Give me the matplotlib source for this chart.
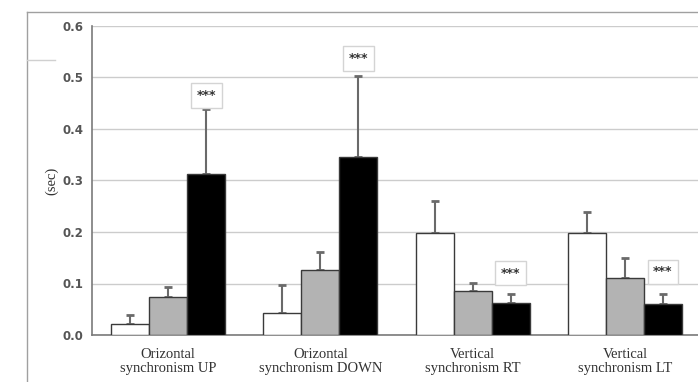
import numpy as np
import matplotlib
matplotlib.use('Agg')
import matplotlib.pyplot as plt
from matplotlib.lines import Line2D

# data
categories = ['Orizontal\nsynchronism UP', 'Orizontal\nsynchronism DOWN',
              'Vertical\nsynchronism RT', 'Vertical\nsynchronism LT']
white_vals = [0.022, 0.043, 0.198, 0.198]
white_err = [0.017, 0.054, 0.062, 0.041]
grey_vals = [0.074, 0.126, 0.085, 0.110]
grey_err = [0.019, 0.035, 0.016, 0.040]
black_vals = [0.312, 0.346, 0.062, 0.060]
black_err = [0.127, 0.157, 0.018, 0.019]
stars = ['***', '***', '***', '***']
star_y = [0.465, 0.537, 0.12, 0.123]
yticks = [0.0, 0.1, 0.2, 0.3, 0.4, 0.5, 0.6]

fig = plt.figure(figsize=(6.98, 3.82), dpi=100)
ax = fig.add_axes([92/698, 1-335/382, 1-92/698, (335-26)/382])

x = np.arange(len(categories))
w = 0.25
series = [(white_vals, white_err, 'white'), (grey_vals, grey_err, '#b3b3b3'),
          (black_vals, black_err, 'black')]
for i, (vals, err, col) in enumerate(series):
    xs = x + (i - 1) * w
    ax.bar(xs, vals, width=w, color=col, edgecolor='#3a3a3a', linewidth=1, zorder=3)
    ax.errorbar(xs, vals, yerr=[np.zeros(len(vals)), err], fmt='none',
                ecolor='#6a6a6a', elinewidth=1.5, capsize=3, capthick=2, zorder=2)

# significance marks over the black bars
for xi, s, sy in zip(x + w, stars, star_y):
    ax.text(xi, sy, s, ha='center', va='center', fontsize=9, color='#333333',
            fontweight='bold', zorder=5,
            bbox=dict(boxstyle='square,pad=0.45', fc='white', ec='#d4d4d4', lw=1))

ax.set_xlim(-0.5, 3.48)
ax.set_ylim(0, 0.6)
ax.set_yticks(yticks)
ax.set_yticklabels([f'{v:.1f}' for v in yticks], fontsize=8.5, fontweight='bold',
                   color='#555555', family='DejaVu Sans')
ax.set_xticks(x)
ax.set_xticklabels(categories, fontsize=10.5, color='#333333', family='Liberation Serif',
                   linespacing=1.15)
ax.tick_params(axis='y', length=0, pad=6)
ax.tick_params(axis='x', length=0, pad=9)
ax.grid(axis='y', color='#cccccc', linewidth=1, zorder=0)
ax.set_axisbelow(True)
for side in ['top', 'right']:
    ax.spines[side].set_visible(False)
for side in ['left', 'bottom']:
    ax.spines[side].set_color('#7a7a7a')
    ax.spines[side].set_linewidth(1.2)
ax.set_ylabel('(sec)', fontsize=10.5, family='Liberation Serif', color='#333333', labelpad=3)

# outer frame bits of the original figure
fig.add_artist(Line2D([27/698, 27/698], [0, 1-12/382], color='#a0a0a0', lw=1))
fig.add_artist(Line2D([27/698, 1], [1-12/382, 1-12/382], color='#a0a0a0', lw=1))
fig.add_artist(Line2D([27/698, 55/698], [1-60/382, 1-60/382], color='#d0d0d0', lw=1))

fig.savefig('out.png', dpi=100)
